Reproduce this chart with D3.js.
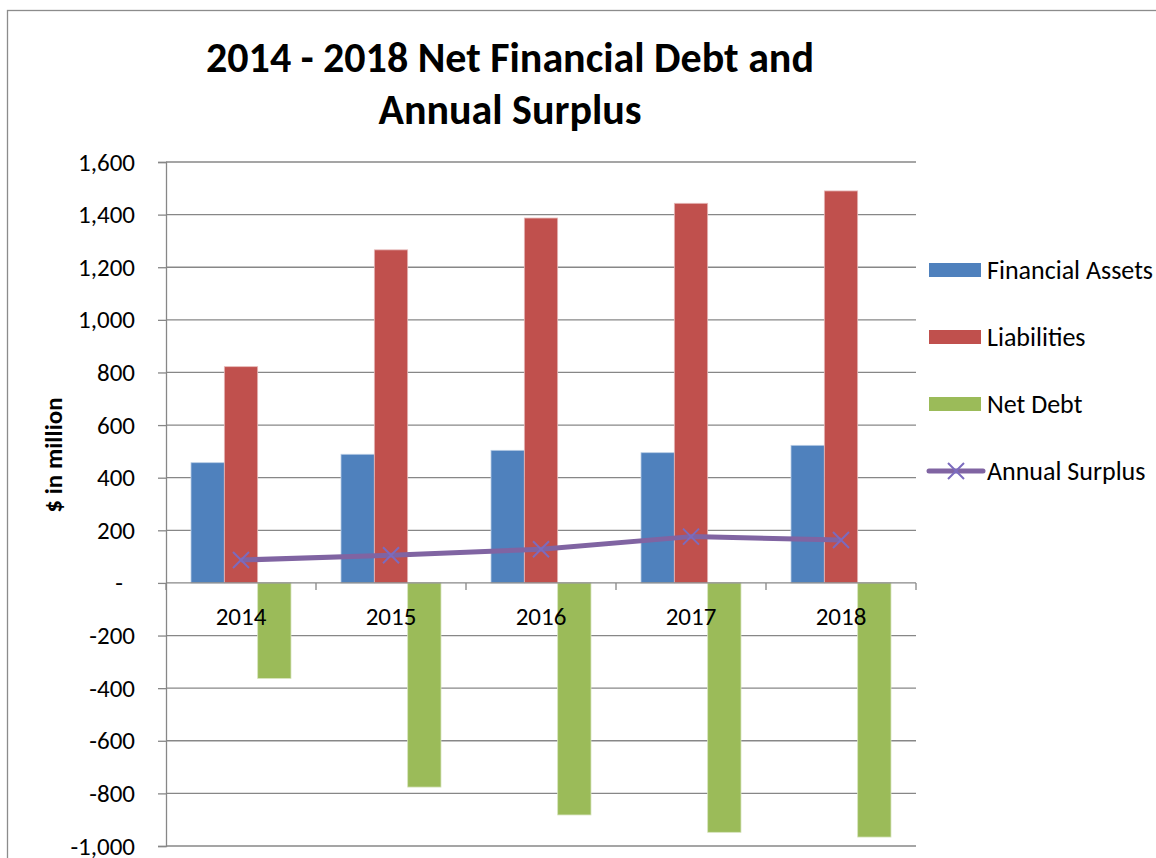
<!DOCTYPE html>
<html>
<head>
<meta charset="utf-8">
<script src="https://cdn.jsdelivr.net/npm/d3@7/dist/d3.min.js"></script>
<style>
  html, body { margin: 0; padding: 0; background: #fff; }
  svg { display: block; }
  text { font-family: Carlito, "Noto Sans", "Open Sans", sans-serif; fill: #000; }
</style>
</head>
<body>
<svg id="chart" width="1156" height="858"></svg>
<script>
// Fiscal years on the category axis
const years = ["2014", "2015", "2016", "2017", "2018"];

// Values in $ million
const financialAssets = [457, 489, 504, 495, 523];
const liabilities     = [822, 1266, 1387, 1443, 1490];
const netDebt         = [-363, -776, -882, -948, -966];
const annualSurplus   = [87, 105, 128, 176, 163];

// Value-axis ticks
const yTicks = [-1000, -800, -600, -400, -200, 0, 200, 400, 600, 800, 1000, 1200, 1400, 1600];

const barSeries = [
  { name: "Financial Assets", values: financialAssets, color: "#4F81BD", edge: "#B9CDE5" },
  { name: "Liabilities",      values: liabilities,     color: "#C0504D", edge: "#E6B9B8" },
  { name: "Net Debt",         values: netDebt,         color: "#9BBB59", edge: "#D7E4BD" }
];
const lineColor = "#8064A2";
const markerColor = "#7B6BBE";
const gridColor = "#878787";

const svg = d3.select("#chart");

// Outer chart frame
svg.append("rect")
  .attr("x", 7.5).attr("y", 10.5)
  .attr("width", 1170).attr("height", 870)
  .attr("fill", "none").attr("stroke", "#8c8c8c").attr("stroke-width", 1.3);

// Title
const title = svg.append("text")
  .attr("text-anchor", "middle")
  .attr("font-weight", "bold")
  .attr("font-size", 42);
title.append("tspan").attr("x", 510).attr("y", 72).text("2014 - 2018 Net Financial Debt and");
title.append("tspan").attr("x", 510).attr("y", 124).text("Annual Surplus");

// Scales
const plotLeft = 166, plotRight = 916, plotTop = 162, plotBottom = 846;
const y = d3.scaleLinear().domain([-1000, 1600]).range([plotBottom, plotTop]);
const x0 = d3.scaleBand().domain(years).range([plotLeft, plotRight]).paddingInner(0).paddingOuter(0);
const x1 = d3.scaleBand().domain(barSeries.map(s => s.name)).range([0, x0.bandwidth()])
  .paddingInner(0).paddingOuter(0.75);

// Horizontal gridlines
svg.append("g").selectAll("line").data(yTicks.filter(v => v !== 0)).join("line")
  .attr("x1", plotLeft).attr("x2", plotRight)
  .attr("y1", d => y(d)).attr("y2", d => y(d))
  .attr("stroke", gridColor).attr("stroke-width", 1.3);

// Clustered bars
const barG = svg.append("g");
barSeries.forEach(s => {
  barG.append("g").selectAll("rect").data(years).join("rect")
    .attr("x", (d) => x0(d) + x1(s.name))
    .attr("width", x1.bandwidth())
    .attr("y", (d, i) => Math.min(y(s.values[i]), y(0)))
    .attr("height", (d, i) => Math.abs(y(s.values[i]) - y(0)))
    .attr("fill", s.color)
    .attr("stroke", s.edge).attr("stroke-width", 0.8);
});

// Value axis
const fmt = d3.format(",");
const yAxis = d3.axisLeft(y)
  .tickValues(yTicks)
  .tickSize(8)
  .tickPadding(23)
  .tickFormat(d => d === 0 ? "-" : (d < 0 ? "-" + fmt(-d) : fmt(d)));
const yAxisG = svg.append("g").attr("transform", `translate(${plotLeft},0)`).call(yAxis);
yAxisG.select(".domain").attr("stroke", gridColor).attr("stroke-width", 1.3);
yAxisG.selectAll(".tick line").attr("stroke", gridColor).attr("stroke-width", 1.3);
yAxisG.selectAll(".tick text")
  .attr("font-size", 25)
  .attr("font-family", 'Carlito, "Noto Sans", "Open Sans", sans-serif')
  .attr("fill", "#000")
  .attr("dx", d => d === 0 ? -12 : 0);

// Category axis along the zero line
svg.append("line")
  .attr("x1", plotLeft).attr("x2", plotRight)
  .attr("y1", y(0)).attr("y2", y(0))
  .attr("stroke", gridColor).attr("stroke-width", 1.3);
const boundaries = years.map(d => x0(d)).concat([x0(years[years.length - 1]) + x0.bandwidth()]);
svg.append("g").selectAll("line").data(boundaries).join("line")
  .attr("x1", d => d).attr("x2", d => d)
  .attr("y1", y(0)).attr("y2", y(0) + 7)
  .attr("stroke", gridColor).attr("stroke-width", 1.3);

// Annual surplus line with X markers
const cx = d => x0(d) + x0.bandwidth() / 2;
const line = d3.line().x((d, i) => cx(years[i])).y(d => y(d));
svg.append("path")
  .datum(annualSurplus)
  .attr("d", line)
  .attr("fill", "none")
  .attr("stroke", lineColor)
  .attr("stroke-width", 5)
  .attr("stroke-linejoin", "round");
const m = 8;
svg.append("g").selectAll("path").data(annualSurplus).join("path")
  .attr("d", (d, i) => {
    const px = cx(years[i]), py = y(d);
    return `M${px - m},${py - m}L${px + m},${py + m}M${px - m},${py + m}L${px + m},${py - m}`;
  })
  .attr("stroke", markerColor).attr("stroke-width", 2).attr("fill", "none");

// Category labels
svg.append("g").selectAll("text").data(years).join("text")
  .attr("x", d => cx(d))
  .attr("y", y(0) + 42)
  .attr("text-anchor", "middle")
  .attr("font-size", 25)
  .text(d => d);

// Value-axis title
svg.append("text")
  .attr("transform", `translate(62,455) rotate(-90)`)
  .attr("text-anchor", "middle")
  .attr("font-weight", "bold")
  .attr("font-size", 25)
  .text("$ in million");

// Legend
const legendItems = barSeries.map(s => ({ name: s.name, color: s.color, type: "bar" }))
  .concat([{ name: "Annual Surplus", color: lineColor, type: "line" }]);
const lg = svg.append("g").selectAll("g").data(legendItems).join("g")
  .attr("transform", (d, i) => `translate(929,${270 + i * 67})`);
lg.filter(d => d.type === "bar").append("rect")
  .attr("x", 0).attr("y", -7).attr("width", 52).attr("height", 14)
  .attr("fill", d => d.color);
lg.filter(d => d.type === "line").append("line")
  .attr("x1", 0).attr("x2", 54).attr("y1", 0).attr("y2", 0)
  .attr("stroke", lineColor).attr("stroke-width", 5).attr("stroke-linecap", "round");
lg.filter(d => d.type === "line").append("path")
  .attr("d", `M${27 - m},${-m}L${27 + m},${m}M${27 - m},${m}L${27 + m},${-m}`)
  .attr("stroke", markerColor).attr("stroke-width", 2);
lg.append("text")
  .attr("x", 58).attr("y", 9)
  .attr("font-size", 26)
  .text(d => d.name);
</script>
</body>
</html>
